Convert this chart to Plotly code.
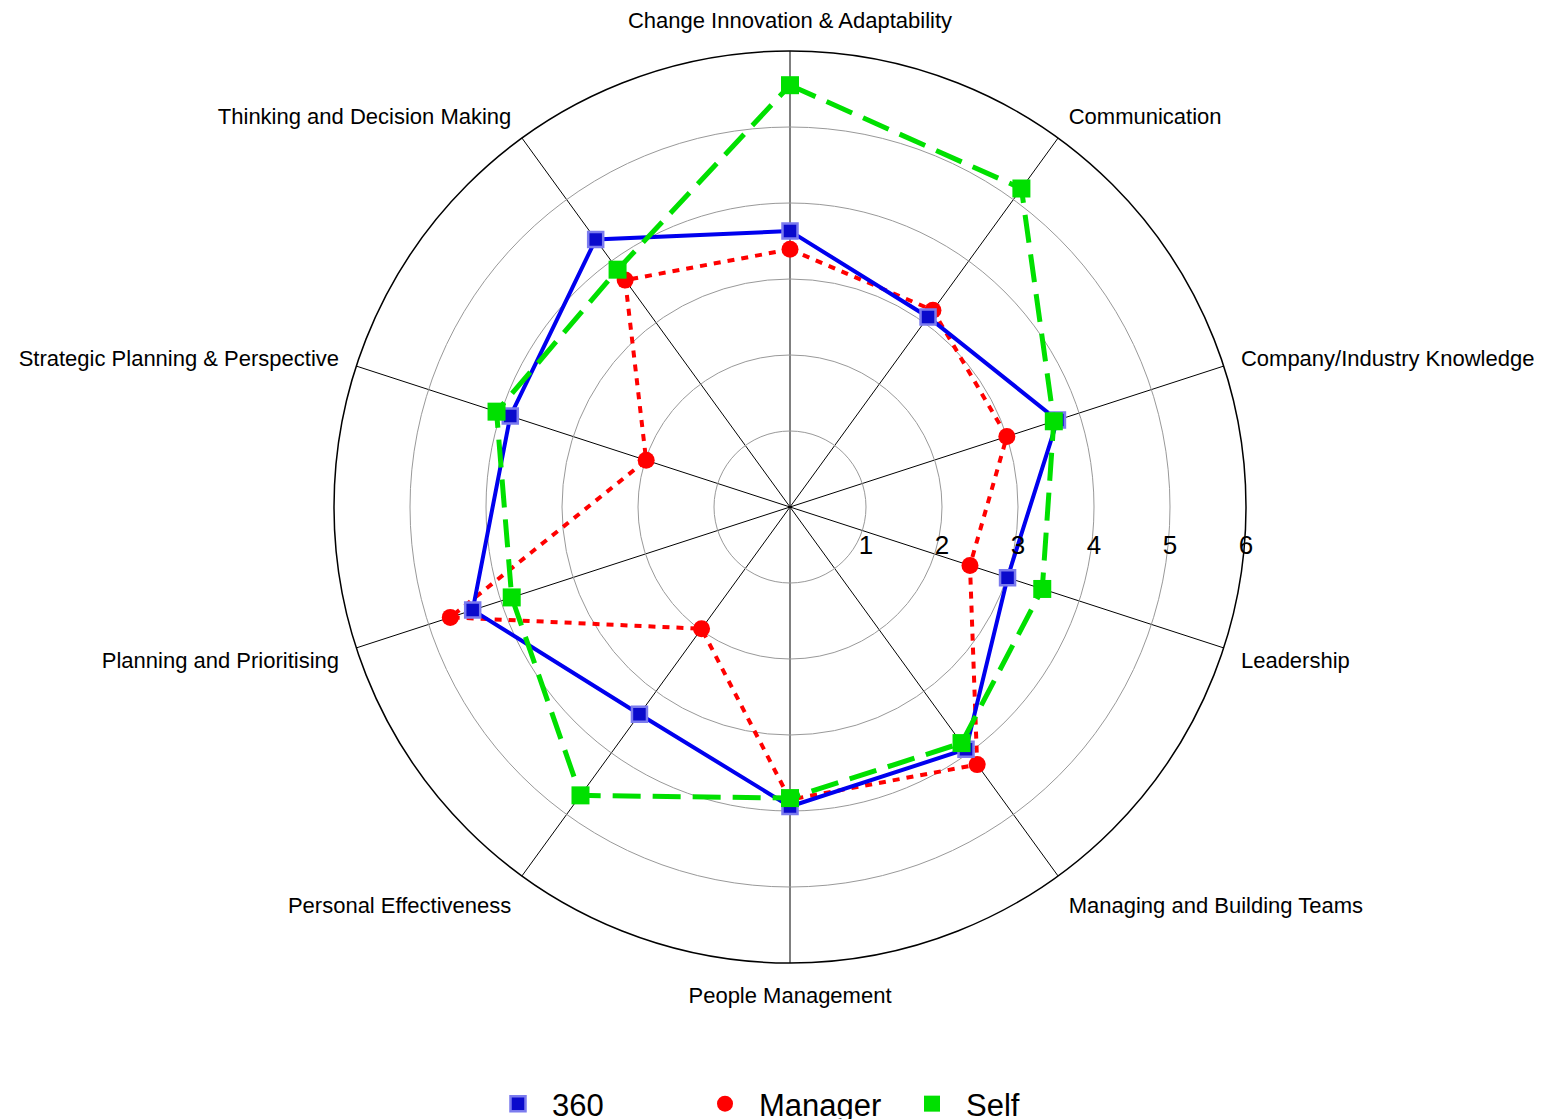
import plotly.graph_objects as go

categories = [
    "Change Innovation & Adaptability",
    "Communication",
    "Company/Industry Knowledge",
    "Leadership",
    "Managing and Building Teams",
    "People Management",
    "Personal Effectiveness",
    "Planning and Prioritising",
    "Strategic Planning & Perspective",
    "Thinking and Decision Making",
]

values_360 = [3.63, 3.09, 3.70, 3.01, 3.94, 3.94, 3.37, 4.39, 3.87, 4.35]
values_manager = [3.39, 3.20, 3.00, 2.49, 4.19, 3.85, 1.98, 4.70, 1.99, 3.69]
values_self = [5.55, 5.18, 3.65, 3.49, 3.84, 3.83, 4.69, 3.85, 4.06, 3.86]

radial_ticks = [1, 2, 3, 4, 5, 6]

FONT = "Arial, Liberation Sans, sans-serif"


def closed(v):
    return list(v) + [v[0]]


fig = go.Figure()

# Manager
fig.add_trace(go.Scatterpolar(
    r=closed(values_manager), theta=closed(categories), mode="lines",
    line=dict(color="#FF0000", width=4, dash="7px,7px"),
    showlegend=False, hoverinfo="skip"))
fig.add_trace(go.Scatterpolar(
    r=values_manager, theta=categories, mode="markers", name="Manager",
    marker=dict(symbol="circle", size=17, color="#FF0000"),
    legendrank=2))

# 360
fig.add_trace(go.Scatterpolar(
    r=closed(values_360), theta=closed(categories), mode="lines",
    line=dict(color="#0000EE", width=4),
    showlegend=False, hoverinfo="skip"))
fig.add_trace(go.Scatterpolar(
    r=values_360, theta=categories, mode="markers", name="360",
    marker=dict(symbol="square", size=15, color="#0A0ACC",
                line=dict(color="#7B7BEE", width=2.5)),
    legendrank=1))

# Self
fig.add_trace(go.Scatterpolar(
    r=closed(values_self), theta=closed(categories), mode="lines",
    line=dict(color="#00E000", width=5, dash="28px,12px"),
    showlegend=False, hoverinfo="skip"))
fig.add_trace(go.Scatterpolar(
    r=values_self, theta=categories, mode="markers", name="Self",
    marker=dict(symbol="square", size=18, color="#00E000"),
    legendrank=3))

W, H = 1542, 1119
# page body has an 8px margin, so place things 8px up/left of their target
OFF = 8
cx, cy, R = 790 - OFF, 507 - OFF, 456

fig.update_layout(
    width=W, height=H,
    margin=dict(l=0, r=0, t=0, b=0, autoexpand=False),
    paper_bgcolor="white",
    font=dict(family=FONT, color="black"),
    polar=dict(
        domain=dict(x=[(cx - R) / W, (cx + R) / W],
                    y=[1 - (cy + R) / H, 1 - (cy - R) / H]),
        bgcolor="white",
        angularaxis=dict(
            type="category",
            categoryarray=categories,
            direction="clockwise",
            rotation=90,
            showline=True, linecolor="black", linewidth=1.5,
            showgrid=True, gridcolor="black", gridwidth=1,
            ticks="outside", ticklen=13, tickcolor="rgba(0,0,0,0)",
            tickfont=dict(size=22, family=FONT, color="black"),
        ),
        radialaxis=dict(
            range=[0, 6],
            tickvals=radial_ticks,
            ticktext=[str(t) for t in radial_ticks],
            angle=0,
            side="clockwise",
            showline=False,
            showgrid=True, gridcolor="#999999", gridwidth=1,
            ticks="outside", ticklen=15, tickcolor="rgba(0,0,0,0)",
            tickfont=dict(size=26, family=FONT, color="black"),
            tickangle=0,
        ),
    ),
    legend=dict(
        orientation="h",
        x=(517 - OFF - 33) / W, xanchor="left",
        y=1 - (1104 - OFF) / H, yanchor="middle",
        font=dict(size=31, family=FONT, color="black"),
        itemwidth=58,
        entrywidth=134, entrywidthmode="pixels",
        bgcolor="rgba(0,0,0,0)",
        traceorder="normal",
    ),
)

fig.write_html("out.html")
